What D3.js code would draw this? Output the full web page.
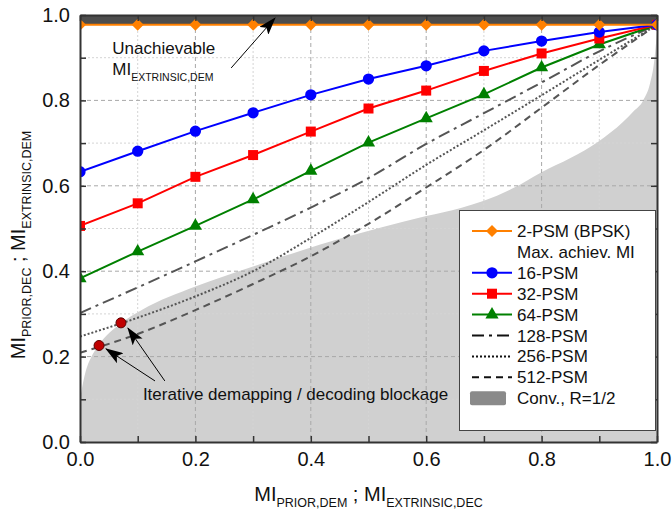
<!DOCTYPE html>
<html>
<head>
<meta charset="utf-8">
<script src="https://cdn.jsdelivr.net/npm/d3@7/dist/d3.min.js"></script>
<style>
  html, body { margin: 0; padding: 0; background: #fff; }
  svg { display: block; font-family: "Liberation Sans", Arial, sans-serif; }
</style>
</head>
<body>
<svg id="chart" width="672" height="517"></svg>
<script>
// Abscissa: MI_PRIOR,DEM ; MI_EXTRINSIC,DEC
const xs = [0, 0.1, 0.2, 0.3, 0.4, 0.5, 0.6, 0.7, 0.8, 0.9, 1.0];

// Demapper EXIT curves per constellation size
const psm2   = [0.977, 0.977, 0.977, 0.977, 0.977, 0.977, 0.977, 0.977, 0.977, 0.977, 0.977];
const psm16  = [0.633, 0.681, 0.728, 0.771, 0.813, 0.850, 0.881, 0.916, 0.939, 0.960, 0.977];
const psm32  = [0.506, 0.559, 0.621, 0.672, 0.727, 0.781, 0.823, 0.869, 0.910, 0.945, 0.977];
const psm64  = [0.383, 0.446, 0.506, 0.568, 0.635, 0.701, 0.758, 0.814, 0.877, 0.931, 0.977];
const psm128 = [0.302, 0.362, 0.423, 0.485, 0.549, 0.618, 0.698, 0.770, 0.842, 0.915, 0.977];
const psm256 = [0.247, 0.291, 0.341, 0.400, 0.478, 0.562, 0.649, 0.730, 0.812, 0.895, 0.977];
const psm512 = [0.209, 0.253, 0.309, 0.370, 0.435, 0.511, 0.596, 0.684, 0.783, 0.883, 0.977];

// Convolutional decoder (R = 1/2) EXIT curve, flipped axes
const convX = [0, 0.004, 0.009, 0.02, 0.032, 0.071, 0.107, 0.2, 0.3, 0.38, 0.45, 0.52, 0.6, 0.66, 0.7, 0.75, 0.8, 0.85, 0.9, 0.94, 0.959, 0.976, 0.988, 0.995, 1.0];
const convY = [0.10, 0.13, 0.161, 0.20, 0.226, 0.278, 0.309, 0.364, 0.411, 0.447, 0.476, 0.502, 0.529, 0.548, 0.565, 0.594, 0.632, 0.665, 0.705, 0.748, 0.774, 0.80, 0.84, 0.89, 0.96];

// Trajectory blockage points (512-PSM and 256-PSM)
const blockX = [0.033, 0.071];
const blockY = [0.226, 0.279];

// Ticks
const tickValues = [0, 0.1, 0.2, 0.3, 0.4, 0.5, 0.6, 0.7, 0.8, 0.9, 1.0];
const tickLabels = ["0.0", "", "0.2", "", "0.4", "", "0.6", "", "0.8", "", "1.0"];

const svg = d3.select("#chart");
const M = { left: 80, right: 657, top: 15, bottom: 442 };
const x = d3.scaleLinear().domain([0, 1]).range([M.left, M.right]);
const y = d3.scaleLinear().domain([0, 1]).range([M.bottom, M.top]);
const W = M.right - M.left, H = M.bottom - M.top;

const defs = svg.append("defs");
defs.append("clipPath").attr("id", "plot")
  .append("rect").attr("x", M.left).attr("y", M.top).attr("width", W).attr("height", H);
defs.append("marker").attr("id", "head")
  .attr("markerUnits", "userSpaceOnUse")
  .attr("markerWidth", 18).attr("markerHeight", 12)
  .attr("refX", 17).attr("refY", 6).attr("orient", "auto")
  .append("path").attr("d", "M0,0 L18,6 L0,12 L4,6 Z").attr("fill", "#000");

const plot = svg.append("g").attr("clip-path", "url(#plot)");

// Decoder region
const convPts = convX.map((v, i) => [v, convY[i]]);
plot.append("path")
  .datum(convPts)
  .attr("fill", "#d0d0d0")
  .attr("d", d3.area().x(d => x(d[0])).y0(y(0)).y1(d => y(d[1])).curve(d3.curveMonotoneX));

// Grid
const grid = plot.append("g");
tickValues.forEach((t, i) => {
  const major = i % 2 === 0;
  if (t === 0 || t === 1) return;
  const st = major ? { c: "#a8a8a8", d: "4,3" } : { c: "#d4d4d4", d: "2,2" };
  grid.append("line").attr("x1", x(t)).attr("x2", x(t)).attr("y1", M.top).attr("y2", M.bottom)
    .attr("stroke", st.c).attr("stroke-width", 1).attr("stroke-dasharray", st.d);
  grid.append("line").attr("y1", y(t)).attr("y2", y(t)).attr("x1", M.left).attr("x2", M.right)
    .attr("stroke", st.c).attr("stroke-width", 1).attr("stroke-dasharray", st.d);
});

// Unachievable band above the maximum achievable MI
plot.append("rect")
  .attr("x", M.left).attr("width", W)
  .attr("y", y(1)).attr("height", y(psm2[0]) - y(1))
  .attr("fill", "#4d4d4d");

const line = d3.line().x(d => x(d[0])).y(d => y(d[1]));
const smooth = d3.line().x(d => x(d[0])).y(d => y(d[1])).curve(d3.curveMonotoneX);
const pts = arr => xs.map((v, i) => [v, arr[i]]);

const dashedSeries = [
  { data: psm128, dash: "12,5,3,5" },
  { data: psm256, dash: "2,2" },
  { data: psm512, dash: "7,5" }
];
dashedSeries.forEach(s => {
  plot.append("path").datum(pts(s.data)).attr("d", smooth)
    .attr("fill", "none").attr("stroke", "#555").attr("stroke-width", 2)
    .attr("stroke-dasharray", s.dash);
});

const sym = {
  circle: { gen: d3.symbol().type(d3.symbolCircle).size(100), rot: 0 },
  square: { gen: d3.symbol().type(d3.symbolSquare).size(100), rot: 0 },
  triangle: { gen: d3.symbol().type(d3.symbolTriangle).size(75), rot: 0 },
  diamond: { gen: d3.symbol().type(d3.symbolSquare).size(72), rot: 45 }
};
const place = (s, px, py) => `translate(${px},${py}) rotate(${sym[s].rot})`;

const markerSeries = [
  { data: psm64, color: "#008000", sym: "triangle" },
  { data: psm32, color: "#ff0000", sym: "square" },
  { data: psm16, color: "#0000ff", sym: "circle" },
  { data: psm2, color: "#ff8000", sym: "diamond" }
];
markerSeries.forEach(s => {
  plot.append("path").datum(pts(s.data)).attr("d", line)
    .attr("fill", "none").attr("stroke", s.color).attr("stroke-width", 2);
  plot.selectAll(null).data(pts(s.data)).enter().append("path")
    .attr("d", sym[s.sym].gen)
    .attr("transform", d => place(s.sym, x(d[0]), y(d[1])))
    .attr("fill", s.color);
});

// Blockage points
plot.selectAll(null).data(blockX.map((v, i) => [v, blockY[i]])).enter().append("circle")
  .attr("cx", d => x(d[0])).attr("cy", d => y(d[1])).attr("r", 5)
  .attr("fill", "#c00000").attr("stroke", "#5a0000").attr("stroke-width", 1);

// Annotations
const ann = svg.append("g");
const arrow = (x1, y1, x2, y2) => ann.append("line")
  .attr("x1", x(x1)).attr("y1", y(y1)).attr("x2", x(x2)).attr("y2", y(y2))
  .attr("stroke", "#000").attr("stroke-width", 1).attr("marker-end", "url(#head)");
arrow(0.262, 0.876, 0.338, 0.993);
arrow(0.130, 0.143, 0.045, 0.218);
arrow(0.147, 0.143, 0.083, 0.267);

ann.append("text").attr("x", x(0.056)).attr("y", y(0.909)).attr("font-size", 17).attr("fill", "#111")
  .text("Unachievable");
const t2 = ann.append("text").attr("x", x(0.056)).attr("y", y(0.859)).attr("font-size", 17).attr("fill", "#111");
t2.append("tspan").text("MI");
t2.append("tspan").attr("dy", 6).attr("font-size", 10.5).text("EXTRINSIC,DEM");

ann.append("text").attr("x", x(0.109)).attr("y", y(0.099)).attr("font-size", 17).attr("fill", "#111")
  .text("Iterative demapping / decoding blockage");

// Axes (ticks inward on all four sides)
const fmt = v => tickLabels[tickValues.findIndex(t => Math.abs(t - v) < 1e-9)];
const styleAxis = g => {
  g.selectAll(".domain").attr("stroke", "#333").attr("stroke-width", 2);
  g.selectAll(".tick line").attr("stroke", "#333").attr("stroke-width", 1.5);
  g.selectAll(".tick text").attr("font-size", 20).attr("fill", "#111")
    .attr("font-family", "'Liberation Sans', Arial, sans-serif");
};
svg.append("g").attr("transform", `translate(0,${M.bottom})`)
  .call(d3.axisBottom(x).tickValues(tickValues).tickFormat(fmt).tickSizeInner(-6).tickSizeOuter(0).tickPadding(10))
  .call(styleAxis);
svg.append("g").attr("transform", `translate(${M.left},0)`)
  .call(d3.axisLeft(y).tickValues(tickValues).tickFormat(fmt).tickSizeInner(-6).tickSizeOuter(0).tickPadding(10))
  .call(styleAxis);
svg.append("g").attr("transform", `translate(0,${M.top})`)
  .call(d3.axisTop(x).tickValues(tickValues).tickFormat("").tickSizeInner(-6).tickSizeOuter(0))
  .call(styleAxis);
svg.append("g").attr("transform", `translate(${M.right},0)`)
  .call(d3.axisRight(y).tickValues(tickValues).tickFormat("").tickSizeInner(-6).tickSizeOuter(0))
  .call(styleAxis);

// Axis titles
const xt = svg.append("text").attr("x", (M.left + M.right) / 2).attr("y", 501)
  .attr("text-anchor", "middle").attr("font-size", 20).attr("fill", "#111");
xt.append("tspan").text("MI");
xt.append("tspan").attr("dy", 6).attr("font-size", 12.5).text("PRIOR,DEM");
xt.append("tspan").attr("dy", -6).text(" ; MI");
xt.append("tspan").attr("dy", 6).attr("font-size", 12.5).text("EXTRINSIC,DEC");

const yt = svg.append("text").attr("transform", "translate(25,245) rotate(-90)")
  .attr("text-anchor", "middle").attr("font-size", 20).attr("fill", "#111");
yt.append("tspan").text("MI");
yt.append("tspan").attr("dy", 6).attr("font-size", 12.5).text("PRIOR,DEC");
yt.append("tspan").attr("dy", -6).text(" ; MI");
yt.append("tspan").attr("dy", 6).attr("font-size", 12.5).text("EXTRINSIC,DEM");

// Legend
const legendNames = ["2-PSM (BPSK)", "Max. achiev. MI", "16-PSM", "32-PSM", "64-PSM", "128-PSM", "256-PSM", "512-PSM", "Conv., R=1/2"];
const lg = svg.append("g");
lg.append("rect").attr("x", 459.5).attr("y", 210.5).attr("width", 196).attr("height", 220)
  .attr("fill", "#fff").attr("stroke", "#444").attr("stroke-width", 1);
const rowY = i => 231 + i * 20.9;
const lx1 = 472, lx2 = 512, lxm = 492;
const legendSyms = [
  { row: 0, color: "#ff8000", sym: "diamond" },
  { row: 2, color: "#0000ff", sym: "circle" },
  { row: 3, color: "#ff0000", sym: "square" },
  { row: 4, color: "#008000", sym: "triangle" }
];
legendSyms.forEach(s => {
  lg.append("line").attr("x1", lx1).attr("x2", lx2).attr("y1", rowY(s.row)).attr("y2", rowY(s.row))
    .attr("stroke", s.color).attr("stroke-width", 2);
  lg.append("path").attr("d", sym[s.sym].gen).attr("transform", place(s.sym, lxm, rowY(s.row))).attr("fill", s.color);
});
dashedSeries.forEach((s, k) => {
  lg.append("line").attr("x1", lx1).attr("x2", lx2).attr("y1", rowY(5 + k)).attr("y2", rowY(5 + k))
    .attr("stroke", "#111").attr("stroke-width", 2).attr("stroke-dasharray", s.dash);
});
lg.append("rect").attr("x", 470).attr("y", rowY(8) - 7).attr("width", 36).attr("height", 14).attr("rx", 2)
  .attr("fill", "#8a8a8a");
legendNames.forEach((n, i) => {
  lg.append("text").attr("x", 517).attr("y", rowY(i) + 6).attr("font-size", 17).attr("fill", "#111").text(n);
});
</script>
</body>
</html>
